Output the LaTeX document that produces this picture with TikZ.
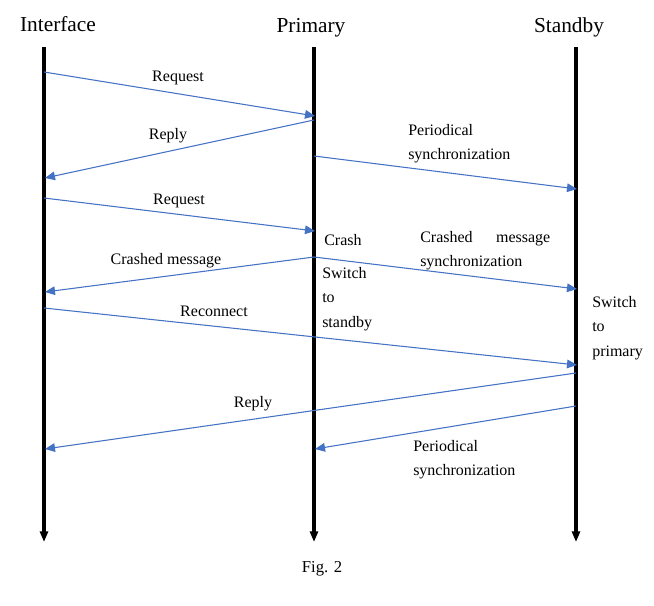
\documentclass[tikz,border=0pt]{standalone}
\usepackage{fontspec}
\setmainfont{Liberation Serif}
\usetikzlibrary{arrows.meta, positioning}
\definecolor{MsgBlue}{RGB}{68,114,196}
\tikzset{
    headlabel/.style={font=\fontsize{16}{19}\selectfont, inner sep=0pt, anchor=base},
    lifeline/.style={line width=2.3pt, -{Triangle[length=8pt,width=6pt]}},
    msgarrow/.style={MsgBlue, line width=0.8pt, -{Triangle[length=7.5pt,width=6.5pt]}},
    msglabel/.style={font=\fontsize{12}{18}\selectfont, inner sep=0pt, anchor=base},
    notelabel/.style={msglabel, anchor=base west, align=left},
}

\begin{document}
\begin{tikzpicture}[x=0.75pt, y=-0.75pt]
    \useasboundingbox (0,0) rectangle (654,606);

    % Lifelines with their headings
    \node[headlabel] (ifc) at (58,32) {Interface};
    \node[headlabel] (pri) at (311,33) {Primary};
    \node[headlabel] (stb) at (569,33) {Standby};
    \coordinate (ifc-top) at (44,47);
    \coordinate (ifc-bot) at (44,542);
    \coordinate (pri-top) at (314,47);
    \coordinate (pri-bot) at (314,542);
    \coordinate (stb-top) at (576,47);
    \coordinate (stb-bot) at (576,542);
    \draw[lifeline] (ifc-top) -- (ifc-bot);
    \draw[lifeline] (pri-top) -- (pri-bot);
    \draw[lifeline] (stb-top) -- (stb-bot);

    % Message end points on the lifelines
    \coordinate (ifc-a) at (44,72);   \coordinate (pri-a) at (315,116);
    \coordinate (pri-b) at (314,120); \coordinate (ifc-b) at (45,178);
    \coordinate (pri-c) at (314,156); \coordinate (stb-c) at (577,189);
    \coordinate (ifc-d) at (44,198);  \coordinate (pri-d) at (315,231);
    \coordinate (pri-e) at (314,257); \coordinate (ifc-e) at (45,292);
    \coordinate (stb-e) at (577,289);
    \coordinate (ifc-f) at (44,308);  \coordinate (stb-f) at (577,365);
    \coordinate (stb-g) at (576,373); \coordinate (ifc-g) at (45,449);
    \coordinate (stb-h) at (576,406); \coordinate (pri-h) at (315,449);

    % Messages
    \draw[msgarrow] (ifc-a) -- (pri-a);
    \draw[msgarrow] (pri-b) -- (ifc-b);
    \draw[msgarrow] (pri-c) -- (stb-c);
    \draw[msgarrow] (ifc-d) -- (pri-d);
    \draw[msgarrow] (pri-e) -- (ifc-e);
    \draw[msgarrow] (pri-e) -- (stb-e);
    \draw[msgarrow] (ifc-f) -- (stb-f);
    \draw[msgarrow] (stb-g) -- (ifc-g);
    \draw[msgarrow] (stb-h) -- (pri-h);

    % Labels (multi-line ones sit on the baseline of their last line)
    \node[msglabel] (req1) at (178,82) {Request};
    \node[msglabel] (rep1) at (168,140) {Reply};
    \node[notelabel] (sync1) at (408,160) {Periodical\\synchronization};
    \node[msglabel] (req2) at (179,205) {Request};
    \node[notelabel] (crash) at (324,246) {Crash};
    \node[msglabel] (crmsg) at (166,265) {Crashed message};
    \node[notelabel, text width=97.5pt] (crsync) at (420,243)
        {Crashed\hfill message\\synchronization};
    \node[notelabel] (swsb) at (322,327) {Switch\\to\\standby};
    \node[msglabel] (recon) at (214,316) {Reconnect};
    \node[notelabel] (swpr) at (592,356) {Switch\\to\\primary};
    \node[msglabel] (rep2) at (253,407) {Reply};
    \node[notelabel] (sync2) at (413,475) {Periodical\\synchronization};

    \node[msglabel, font=\fontsize{12.5}{14}\selectfont] (cap) at (322,572) {Fig. 2};
\end{tikzpicture}
\end{document}
